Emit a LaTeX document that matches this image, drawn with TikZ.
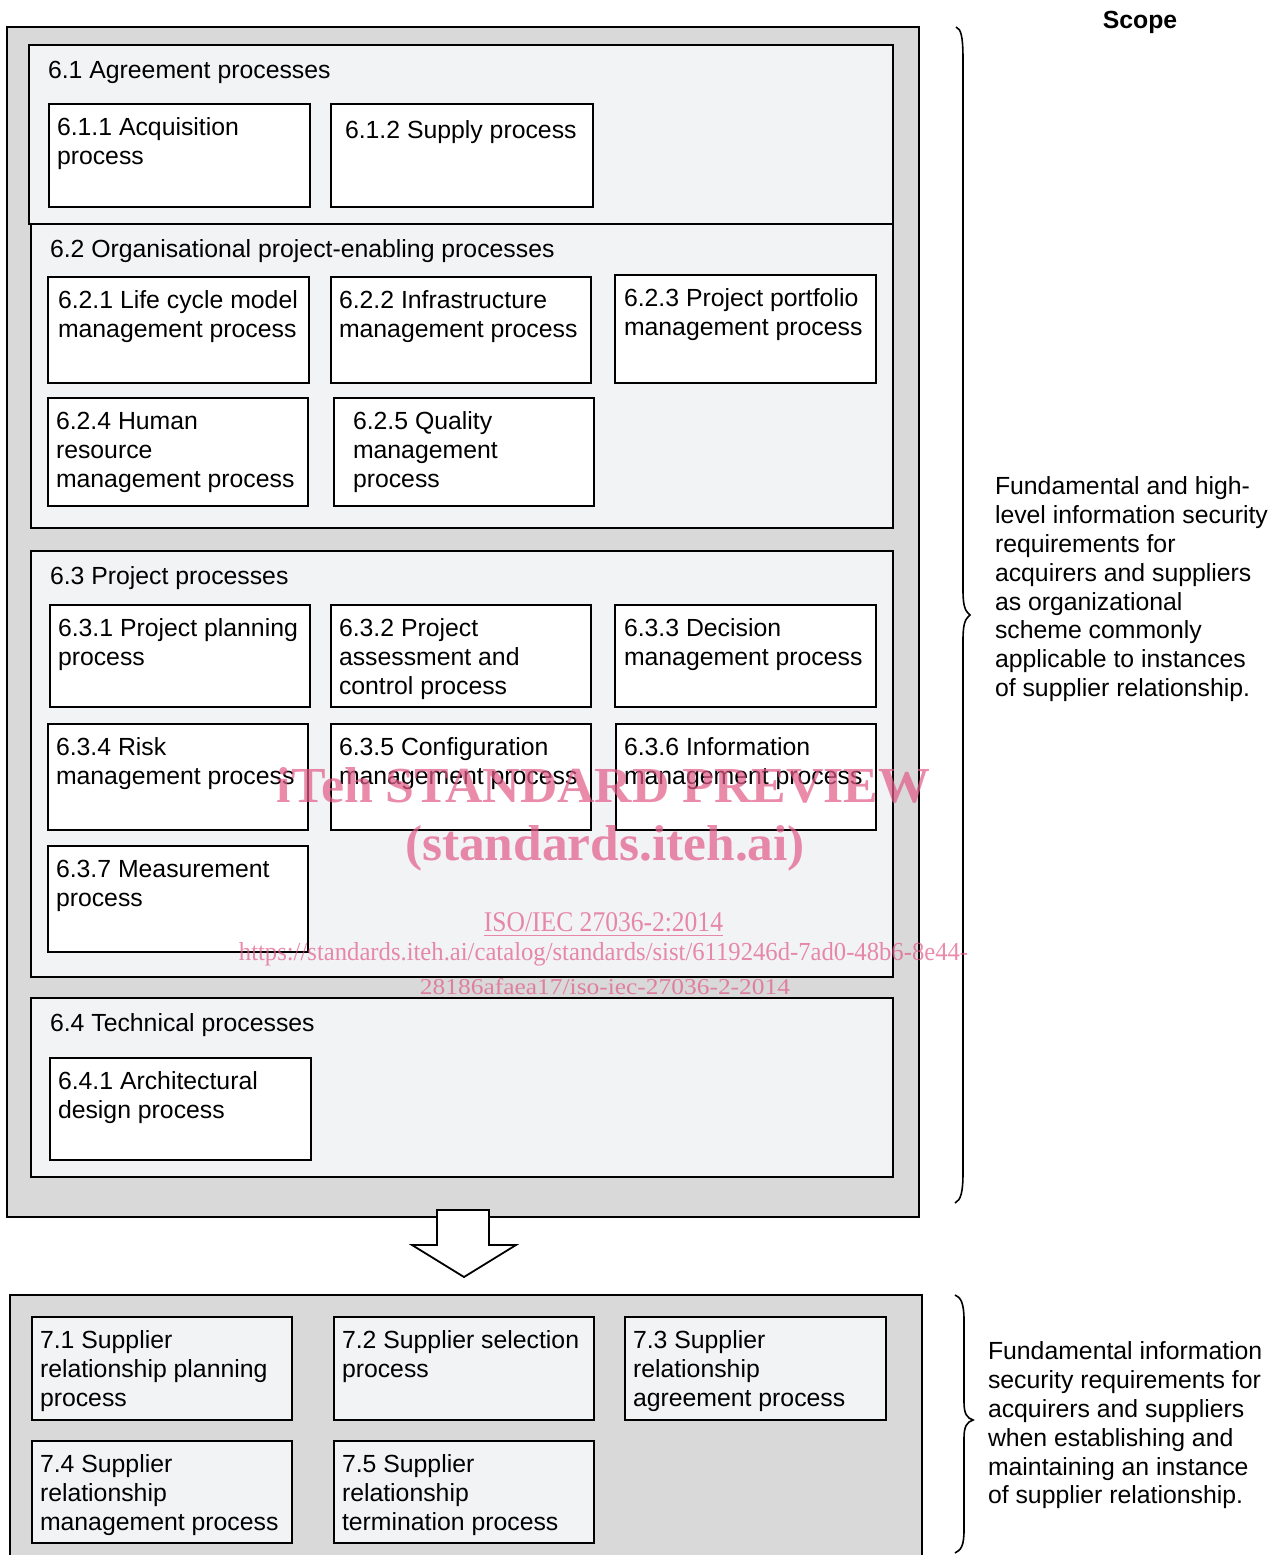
\documentclass[tikz,border=0pt]{standalone}
\usepackage{fontspec}
\setmainfont{Liberation Sans}
\newfontfamily\wmfont{Liberation Serif}
\usepackage{graphicx}
\usetikzlibrary{calc}
\definecolor{outergray}{HTML}{D9D9D9}
\definecolor{panelgray}{HTML}{F2F3F5}
\definecolor{wmpink}{RGB}{226,90,135}
\newcommand\firststrut{\rule{0pt}{20pt}}
\tikzset{
  frame/.style={draw=black, line width=1.8pt, fill=outergray, inner sep=0pt, outer sep=0pt, anchor=north west},
  panel/.style={draw=black, line width=1.8pt, fill=panelgray, inner sep=0pt, outer sep=0pt, anchor=north west},
  procw/.style={draw=black, line width=1.8pt, fill=white, inner sep=0pt, outer sep=0pt, anchor=north west},
  procg/.style={procw, fill=panelgray},
  lbl/.style={inner sep=0pt, outer sep=0pt, anchor=north west, align=left, font=\fontsize{24.8}{29}\selectfont, execute at begin node=\firststrut},
  side/.style={lbl, font=\fontsize{24.8}{28.8}\selectfont},
  heading/.style={inner sep=0pt, outer sep=0pt, anchor=base, font=\fontsize{24.8}{29}\selectfont\bfseries},
  wm/.style={text=wmpink, text opacity=0.7, inner sep=0pt, anchor=base, font=\wmfont},
  bracestyle/.style={draw=black, line width=1.6pt},
  bigarrow/.style={draw=black, line width=1.8pt, fill=white, line join=miter},
}
% [style]{name}{x1}{y1}{x2}{y2}{inset}{text}
\newcommand\procbox[8][procw]{%
  \pgfmathsetmacro\bw{#5-#3}\pgfmathsetmacro\bh{#6-#4}%
  \node[#1, minimum width=\bw pt, minimum height=\bh pt] (#2) at (#3,#4) {};
  \node[lbl] (#2-t) at ($(#2.north west)+(#7,14)$) {#8};
}
\newcommand\panelbox[7][panel]{%
  \pgfmathsetmacro\bw{#5-#3}\pgfmathsetmacro\bh{#6-#4}%
  \node[#1, minimum width=\bw pt, minimum height=\bh pt] (#2) at (#3,#4) {};
  \node[lbl] (#2-t) at ($(#2.north west)+(19,13)$) {#7};
}
\begin{document}
\begin{tikzpicture}[x=1pt,y=-1pt]
\useasboundingbox (0,0) rectangle (1287,1555);
\clip (0,0) rectangle (1287,1555);

% ---------- upper frame ----------
\node[frame, minimum width=912pt, minimum height=1190pt] (top) at (7,27) {};

\panelbox{p61}{29}{45}{893}{224}{6.1 Agreement processes}
\procbox{b611}{49}{104}{310}{207}{8}{6.1.1 Acquisition\\process}
\procbox{b612}{331}{104}{593}{207}{14}{6.1.2 Supply process}

\panelbox{p62}{31}{224}{893}{528}{6.2 Organisational project-enabling processes}
\procbox{b621}{48}{277}{309}{383}{10}{6.2.1 Life cycle model\\management process}
\procbox{b622}{331}{277}{591}{383}{8}{6.2.2 Infrastructure\\management process}
\procbox{b623}{615}{275}{876}{383}{9}{6.2.3 Project portfolio\\management process}
\procbox{b624}{48}{398}{308}{506}{8}{6.2.4 Human\\resource\\management process}
\procbox{b625}{334}{398}{594}{506}{19}{6.2.5 Quality\\management\\process}

\panelbox{p63}{31}{551}{893}{977}{6.3 Project processes}
\procbox{b631}{50}{605}{310}{707}{8}{6.3.1 Project planning\\process}
\procbox{b632}{331}{605}{591}{707}{8}{6.3.2 Project\\assessment and\\control process}
\procbox{b633}{615}{605}{876}{707}{9}{6.3.3 Decision\\management process}
\procbox{b634}{48}{724}{308}{830}{8}{6.3.4 Risk\\management process}
\procbox{b635}{331}{724}{591}{830}{8}{6.3.5 Configuration\\management process}
\procbox{b636}{616}{724}{876}{830}{8}{6.3.6 Information\\management process}
\procbox{b637}{48}{846}{308}{952}{8}{6.3.7 Measurement\\process}

\panelbox{p64}{31}{998}{893}{1177}{6.4 Technical processes}
\procbox{b641}{50}{1058}{311}{1160}{8}{6.4.1 Architectural\\design process}

% ---------- arrow ----------
\draw[bigarrow] (437,1210) -- (489,1210) -- (489,1245) -- (516,1245) -- (464,1277) -- (412,1245) -- (437,1245) -- cycle;

% ---------- lower frame ----------
\node[frame, minimum width=912pt, minimum height=290pt] (bot) at (10,1295) {};
\procbox[procg]{b71}{32}{1317}{292}{1420}{8}{7.1 Supplier\\relationship planning\\process}
\procbox[procg]{b72}{334}{1317}{594}{1420}{8}{7.2 Supplier selection\\process}
\procbox[procg]{b73}{625}{1317}{886}{1420}{8}{7.3 Supplier\\relationship\\agreement process}
\procbox[procg]{b74}{32}{1441}{292}{1543}{8}{7.4 Supplier\\relationship\\management process}
\procbox[procg]{b75}{334}{1441}{594}{1543}{8}{7.5 Supplier\\relationship\\termination process}

% ---------- braces ----------
\draw[bracestyle] (956,27) .. controls (961,29) and (963,36) .. (963,60)
  -- (963,590) .. controls (963,606) and (965,611) .. (970,615)
  .. controls (965,619) and (963,624) .. (963,640)
  -- (963,1172) .. controls (963,1192) and (961,1200) .. (955,1203);
\draw[bracestyle] (955,1295) .. controls (961,1297) and (964,1304) .. (964,1320)
  -- (964,1402) .. controls (964,1414) and (967,1418) .. (973,1420)
  .. controls (967,1422) and (964,1426) .. (964,1438)
  -- (964,1530) .. controls (964,1546) and (961,1550) .. (955,1553);

% ---------- side texts ----------
\node[heading] (scope) at (1140,29) {Scope};
\node[side] (s1) at (995,477) {Fundamental and high-\\level information security\\requirements for\\acquirers and suppliers\\as organizational\\scheme commonly\\applicable to instances\\of supplier relationship.};
\node[side] (s2) at (988,1342) {Fundamental information\\security requirements for\\acquirers and suppliers\\when establishing and\\maintaining an instance\\of supplier relationship.};

% ---------- watermark ----------
\node[wm] (wm1) at (603.5,802) {\resizebox{653pt}{35pt}{\bfseries iTeh STANDARD PREVIEW}};
\node[wm] (wm2) at (605,860) {\resizebox{400pt}{35pt}{\bfseries (standards.iteh.ai)}};
\node[wm] (wm3) at (603.5,931) {\resizebox{239pt}{19pt}{\underline{ISO/IEC 27036-2:2014}}};
\node[wm] (wm4) at (603.5,960) {\resizebox{729pt}{18pt}{https://standards.iteh.ai/catalog/standards/sist/6119246d-7ad0-48b6-8e44-}};
\node[wm] (wm5) at (605,994) {\resizebox{370pt}{16pt}{28186afaea17/iso-iec-27036-2-2014}};
\end{tikzpicture}
\end{document}
